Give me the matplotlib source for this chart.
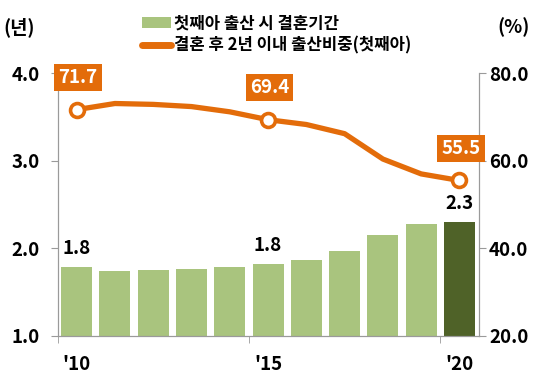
import matplotlib
matplotlib.use("Agg")
import matplotlib.pyplot as plt
from matplotlib.patches import Patch
from matplotlib.lines import Line2D

plt.rcParams['font.family'] = ['Noto Sans CJK KR', 'DejaVu Sans']
plt.rcParams['font.weight'] = 'bold'

# data
years = [2010, 2011, 2012, 2013, 2014, 2015, 2016, 2017, 2018, 2019, 2020]
marriage_years = [1.79, 1.74, 1.75, 1.76, 1.79, 1.82, 1.87, 1.97, 2.15, 2.28, 2.30]
share_2yrs = [71.7, 73.1, 72.9, 72.4, 71.2, 69.4, 68.3, 66.2, 60.4, 57.0, 55.5]
bar_label_idx = [0, 5, 10]
bar_label_txt = ["1.8", "1.8", "2.3"]
line_label_idx = [0, 5, 10]
xtick_labels = ["'10", "'15", "'20"]

GREEN = "#A9C47E"
DARK_GREEN = "#4F6228"
ORANGE = "#E36C0A"
GRAY = "#9A9A9A"
FS = 13.5

fig = plt.figure(figsize=(5.43, 3.79), dpi=100)
ax = fig.add_axes([0.1059, 0.1142, 0.7755, 0.6923])

x = list(range(len(years)))
colors = [GREEN] * (len(years) - 1) + [DARK_GREEN]
ax.bar(x, marriage_years, width=0.81, color=colors, bottom=0)
ax.set_ylim(1.0, 4.0)
ax.set_xlim(-0.5, len(years) - 0.5)
ax.set_yticks([1.0, 2.0, 3.0, 4.0])
ax.set_yticklabels(["1.0", "2.0", "3.0", "4.0"])

for i, t in zip(bar_label_idx, bar_label_txt):
    ax.annotate(t, (i, marriage_years[i]), xytext=(0, 13), textcoords="offset points",
                ha="center", va="center", fontsize=FS, fontweight="bold", color="black")

# x ticks: marks at boundaries, labels at bar centres
ax.set_xticks([0, 5, 10])
ax.set_xticklabels(xtick_labels)
ax.set_xticks([-0.5, 4.5, 9.5], minor=True)
ax.tick_params(axis="x", which="major", length=0, pad=14, labelsize=FS)
ax.tick_params(axis="x", which="minor", length=5, color=GRAY, direction="out")
ax.tick_params(axis="y", length=5, color=GRAY, pad=8, labelsize=FS)

for s in ["left", "bottom", "right"]:
    ax.spines[s].set_color(GRAY)
ax.spines["top"].set_visible(False)

ax2 = ax.twinx()
ax2.plot(x, share_2yrs, color=ORANGE, lw=3.8, marker="o", markersize=10,
         markevery=line_label_idx,
         markerfacecolor="white", markeredgecolor=ORANGE, markeredgewidth=2.6,
         solid_capstyle="round", solid_joinstyle="round")
ax2.set_ylim(20, 80)
ax2.set_yticks([20, 40, 60, 80])
ax2.set_yticklabels(["20.0", "40.0", "60.0", "80.0"])
ax2.tick_params(axis="y", length=5, color=GRAY, pad=2.5, labelsize=FS)
for s in ["left", "bottom", "right"]:
    ax2.spines[s].set_color(GRAY)
ax2.spines["top"].set_visible(False)

for i in line_label_idx:
    ax2.annotate(f"{share_2yrs[i]:.1f}", (i, share_2yrs[i]), xytext=(1, 23),
                 textcoords="offset points", ha="center", va="center",
                 fontsize=FS, fontweight="bold", color="white",
                 bbox=dict(boxstyle="square,pad=0.22", fc=ORANGE, ec="none"))

handles = [Patch(facecolor=GREEN, edgecolor="none"),
           Line2D([0], [0], color=ORANGE, lw=5, solid_capstyle="round")]
labels = ["첫째아 출산 시 결혼기간", "결혼 후 2년 이내 출산비중(첫째아)"]
fig.legend(handles, labels, loc="upper left", bbox_to_anchor=(0.262, 0.962),
           frameon=False, fontsize=12, handlelength=1.7, handleheight=0.6,
           handletextpad=0.2, labelspacing=0.25, borderpad=0, borderaxespad=0)

fig.text(3 / 543, 1 - 27 / 379, "(년)", ha="left", va="center", fontsize=FS, fontweight="bold")
fig.text(514 / 543, 1 - 27 / 379, "(%)", ha="center", va="center", fontsize=FS, fontweight="bold")

fig.savefig("out.png", dpi=100)
